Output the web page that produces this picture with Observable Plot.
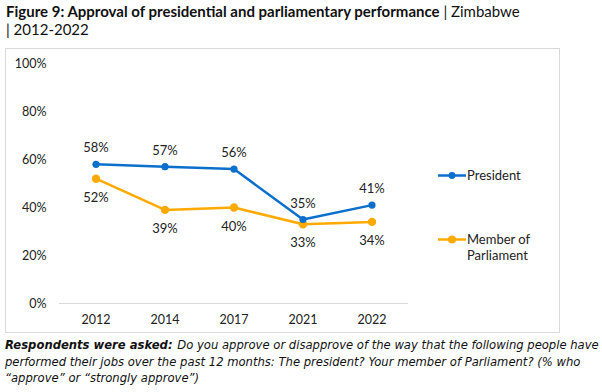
<!DOCTYPE html>
<html><head><meta charset="utf-8">
<script src="https://cdn.jsdelivr.net/npm/d3@7"></script>
<script src="https://cdn.jsdelivr.net/npm/@observablehq/plot@0.6"></script>
<style>
body{margin:0;width:602px;height:392px;background:#fff;font-family:"Lato",sans-serif;color:#000;position:relative;overflow:hidden}
#title{position:absolute;left:6px;top:2px;width:590px;font-size:15px;line-height:18px;color:#111}
#title b{font-weight:700}
#box{position:absolute;left:5px;top:48px;width:553px;height:283px;border:1px solid #d9d9d9}
#chart{position:absolute;left:0;top:0}
#legend{position:absolute;left:432px;top:118px;font-size:13px;line-height:16px;color:#222}
.li{position:absolute;display:flex;align-items:flex-start;white-space:nowrap}
#foot{position:absolute;left:5px;top:337px;width:597px;white-space:nowrap;font-family:"DejaVu Sans",sans-serif;font-size:11.6px;line-height:16.5px;font-style:italic;color:#111}
#foot b{margin-right:1px}
</style></head>
<body>
<div id="title"><b>Figure 9: Approval of presidential and parliamentary performance</b> | Zimbabwe<br>| 2012-2022</div>
<div id="box"><div id="chart"></div>
<div id="legend"></div>
</div>
<div id="foot"><b>Respondents were asked:</b> Do you approve or disapprove of the way that the following people have<br>performed their jobs over the past 12 months: The president? Your member of Parliament? (% who<br>“approve” or “strongly approve”)</div>
<script>
const years = ["2012","2014","2017","2021","2022"];
const president = [58,57,56,35,41];
const mp = [52,39,40,33,34];
const seriesNames = ["President","Member of Parliament"];
const colors = ["#0B6FCC","#FFAA00"];
const yTicks = [0,20,40,60,80,100];

const data = [];
years.forEach((y,i)=>{
  data.push({year:y, value:president[i], series:seriesNames[0]});
  data.push({year:y, value:mp[i], series:seriesNames[1]});
});
const pres = data.filter(d=>d.series===seriesNames[0]);
const mem = data.filter(d=>d.series===seriesNames[1]);

const chart = Plot.plot({
  width:553, height:283,
  marginLeft:53, marginRight:151, marginTop:14, marginBottom:29,
  style:{fontFamily:"Lato, sans-serif", fontSize:"12.5px", color:"#222", background:"transparent"},
  x:{type:"band", domain:years, padding:0, label:null, tickSize:0, tickPadding:12},
  y:{domain:[0,100], ticks:yTicks, tickFormat:d=>d+"%", label:null, tickSize:0, tickPadding:13},
  color:{domain:seriesNames, range:colors},
  marks:[
    Plot.ruleY([0],{stroke:"#d9d9d9", strokeWidth:1}),
    Plot.line(mem,{x:"year", y:"value", stroke:colors[1], strokeWidth:2.5}),
    Plot.dot(mem,{x:"year", y:"value", fill:colors[1], r:4.2}),
    Plot.line(pres,{x:"year", y:"value", stroke:colors[0], strokeWidth:2.5}),
    Plot.dot(pres,{x:"year", y:"value", fill:colors[0], r:3.6}),
    Plot.text(pres,{x:"year", y:"value", text:d=>d.value+"%", dy:-16, fill:"#222", fontSize:13}),
    Plot.text(mem,{x:"year", y:"value", text:d=>d.value+"%", dy:19, fill:"#222", fontSize:13})
  ]
});
document.getElementById("chart").appendChild(chart);

const leg = document.getElementById("legend");
const legTop = [0, 64];
const legLabels = ["President","Member of<br>Parliament"];
seriesNames.forEach((s,i)=>{
  const el = document.createElement("div");
  el.className="li";
  el.style.top = legTop[i]+"px";
  el.innerHTML = `<svg width="28" height="16" style="margin-right:1px"><line x1="0" x2="28" y1="8.5" y2="8.5" stroke="${colors[i]}" stroke-width="2.5"/><circle cx="14" cy="8.5" r="${i?4:3.4}" fill="${colors[i]}"/></svg><span>${legLabels[i]}</span>`;
  leg.appendChild(el);
});
</script>
</body></html>
